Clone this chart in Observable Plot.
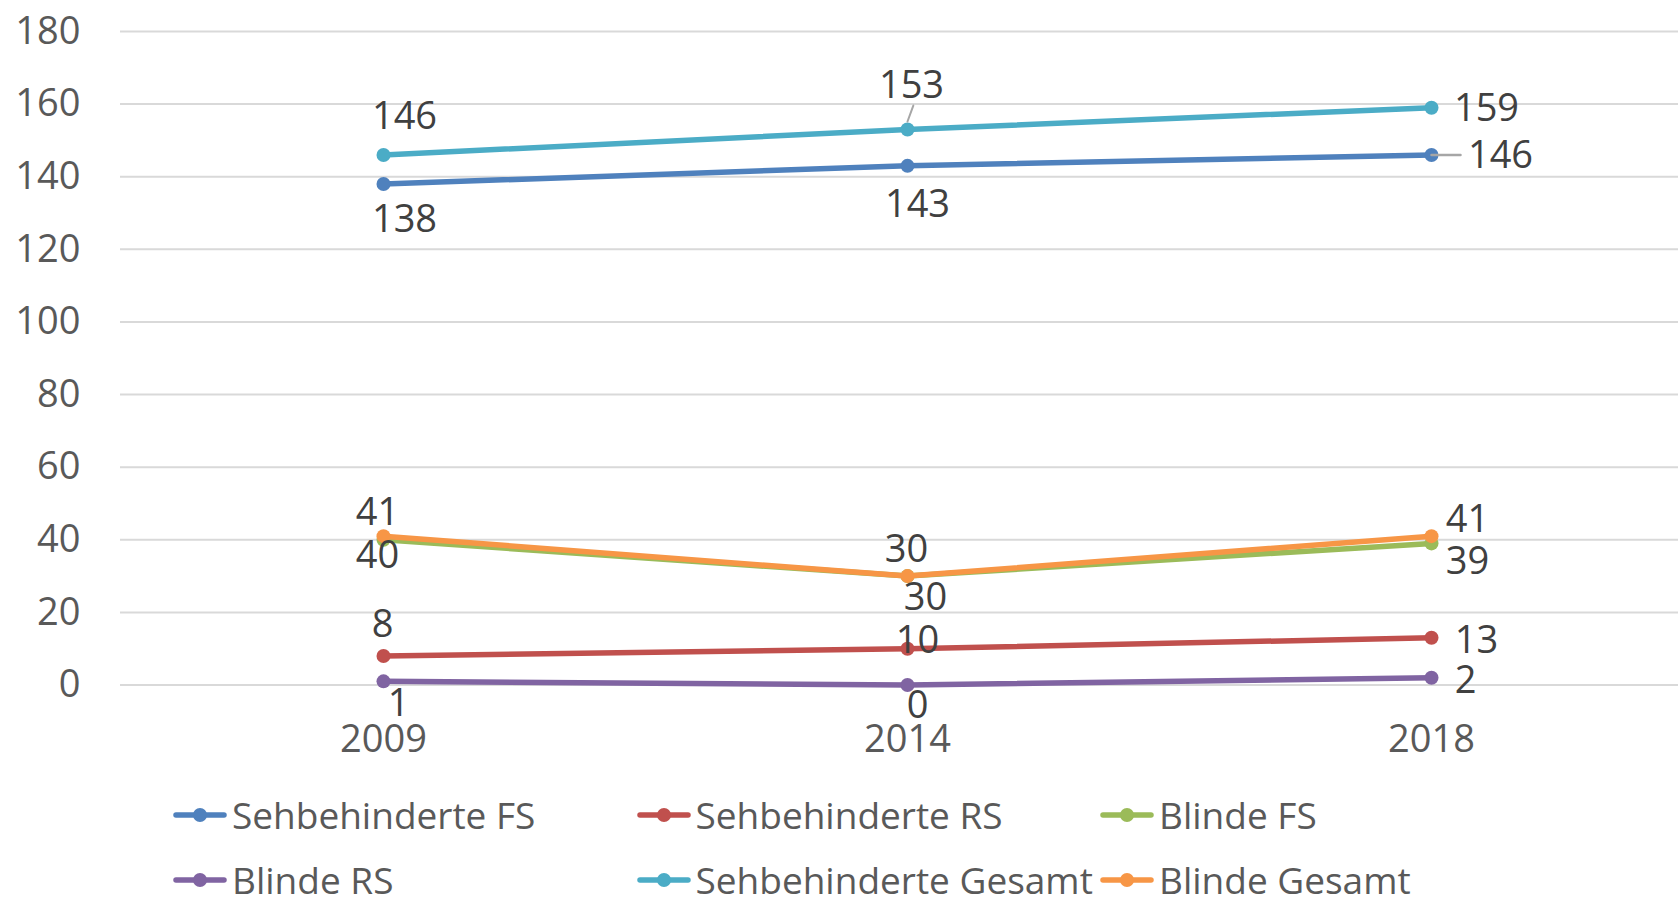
<!DOCTYPE html>
<html>
<head>
<meta charset="utf-8">
<script src="https://cdn.jsdelivr.net/npm/d3@7"></script>
<script src="https://cdn.jsdelivr.net/npm/@observablehq/plot@0.6"></script>
<style>
  html, body { margin: 0; padding: 0; background: #fff; overflow: hidden; }
  #chart svg { display: block; }
  #legend {
    display: grid;
    grid-template-columns: 463.5px 463.5px 463.5px;
    margin-left: 173px;
    margin-top: 12px;
    font-family: "Open Sans", sans-serif;
    font-size: 37px;
    color: #595959;
  }
  .item { display: flex; align-items: center; height: 65px; white-space: nowrap; }
  .item svg { flex: none; margin-right: 5px; }
</style>
</head>
<body>
<div id="chart"></div>
<div id="legend"></div>
<script>
// ---- data ----
const years = ["2009", "2014", "2018"];
const seriesNames = ["Sehbehinderte FS", "Sehbehinderte RS", "Blinde FS", "Blinde RS", "Sehbehinderte Gesamt", "Blinde Gesamt"];
const sehbehinderteFS = [138, 143, 146];
const sehbehinderteRS = [8, 10, 13];
const blindeFS = [40, 30, 39];
const blindeRS = [1, 0, 2];
const sehbehinderteGesamt = [146, 153, 159];
const blindeGesamt = [41, 30, 41];
const yTicks = [0, 20, 40, 60, 80, 100, 120, 140, 160, 180];

// ---- styles ----
const seriesColors = ["#4F81BD", "#C0504D", "#9BBB59", "#8064A2", "#4BACC6", "#F79646"];
// data label offsets (px) per series, per year
const labelOffsets = [
  [[21, 36], [10, 39], [69, 1]],
  [[-1, -31], [10, -8], [45, 3]],
  [[-6, 16], [18, 22], [36, 18]],
  [[15, 22], [10, 21], [34, 3]],
  [[21, -38], [4, -44], [55, 1]],
  [[-6, -23], [-1, -26], [36, -16]]
];
const font = "'Open Sans', sans-serif";

const seriesValues = [sehbehinderteFS, sehbehinderteRS, blindeFS, blindeRS, sehbehinderteGesamt, blindeGesamt];
const rows = seriesNames.flatMap((name, si) =>
  years.map((year, yi) => ({series: name, si, year, yi, value: seriesValues[si][yi]})));

const marks = [];
marks.push(Plot.ruleY(yTicks, {stroke: "#D9D9D9", strokeWidth: 2}));
marks.push(Plot.axisY(yTicks, {label: null, tickSize: 0, tickPadding: 40, fontSize: 38, fill: "#595959"}));
marks.push(Plot.axisX(years, {label: null, tickSize: 0, tickPadding: 40, fontSize: 38, fill: "#595959"}));

seriesNames.forEach((name, si) => {
  const d = rows.filter(r => r.si === si);
  marks.push(Plot.line(d, {x: "year", y: "value", stroke: seriesColors[si], strokeWidth: 5.5, strokeLinejoin: "round", strokeLinecap: "round"}));
  marks.push(Plot.dot(d, {x: "year", y: "value", r: 7, fill: seriesColors[si], stroke: "none"}));
});

// leader lines
const leader = {draw(context, l) { context.moveTo(0, 0); context.lineTo(0, -l); }};
marks.push(Plot.vector(rows.filter(r => r.si === 4 && r.yi === 1), {x: "year", y: "value", dy: -8, length: 17, rotate: 20, anchor: "start", shape: leader, stroke: "#A6A6A6", strokeWidth: 2}));
marks.push(Plot.vector(rows.filter(r => r.si === 0 && r.yi === 2), {x: "year", y: "value", length: 29, rotate: 90, anchor: "start", shape: leader, stroke: "#A6A6A6", strokeWidth: 2.5}));

// data labels
rows.forEach(r => {
  const [dx, dy] = labelOffsets[r.si][r.yi];
  marks.push(Plot.text([r], {x: "year", y: "value", text: d => String(d.value), dx, dy, fontSize: 38, fill: "#404040"}));
});

const chart = Plot.plot({
  width: 1678,
  height: 770,
  marginLeft: 120,
  marginRight: 0,
  marginTop: 31,
  marginBottom: 85.5,
  style: {fontFamily: font, background: "#fff", overflow: "hidden"},
  x: {type: "point", domain: years, range: [120, 1693], padding: 0.5, axis: null, label: null},
  y: {domain: [0, 180], axis: null, label: null},
  marks
});
document.getElementById("chart").appendChild(chart);

// legend
const legend = document.getElementById("legend");
seriesNames.forEach((name, si) => {
  const item = document.createElement("div");
  item.className = "item";
  item.innerHTML = `<svg width="54" height="16"><line x1="3" x2="51" y1="8" y2="8" stroke="${seriesColors[si]}" stroke-width="5.5" stroke-linecap="round"/><circle cx="27" cy="8" r="7" fill="${seriesColors[si]}"/></svg><span>${name}</span>`;
  legend.appendChild(item);
});
</script>
</body>
</html>
